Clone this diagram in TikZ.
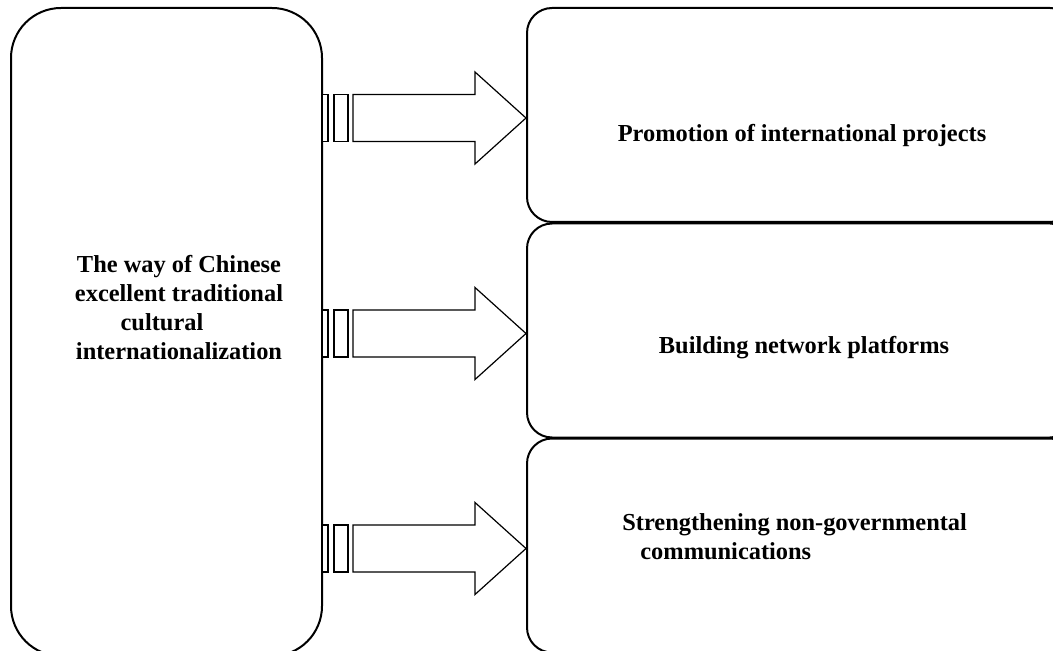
\documentclass[tikz,border=0pt]{standalone}
\usepackage{fontspec}
\setmainfont{Liberation Serif}
\usepackage{tikz}
\usetikzlibrary{calc}

% block arrow with two stripes at its tail, tip given
\newcommand{\stripedarrow}[1]{%
    \draw[arrowshape] ($(#1)+(-204,-23.5)$) rectangle ++(6,47);
    \draw[arrowshape] ($(#1)+(-192,-23.5)$) rectangle ++(14,47);
    \draw[arrowshape] (#1) -- ++(-51,-46) -- ++(0,22.5) -- ++(-122,0) -- ++(0,47) -- ++(122,0) -- ++(0,22.5) -- cycle;
}

\begin{document}
\begin{tikzpicture}[x=0.5pt, y=-0.5pt,
    box/.style={draw, line width=1pt, fill=white, inner sep=0pt},
    boxtext/.style={font=\fontsize{12.2}{14.5}\selectfont\bfseries, inner sep=0pt},
    arrowshape/.style={draw, line width=0.6pt, fill=white}]
    \clip (0,0) rectangle (1053,651);

    % Boxes
    \node[box, rounded corners=25pt, minimum width=155.5pt, minimum height=324pt] (way) at (166.5,332) {};
    \node[box, rounded corners=12.5pt, minimum width=274pt, minimum height=107pt] (promo) at (801,115) {};
    \node[box, rounded corners=12.5pt, minimum width=274pt, minimum height=107pt] (network) at (801,330.5) {};
    \node[box, rounded corners=12.5pt, minimum width=274pt, minimum height=107pt] (civil) at (801,545.5) {};

    % Texts
    \node[boxtext, align=center] (waytext) at (179,308) {The way of Chinese\\excellent traditional\\cultural\rule{17pt}{0pt}\\internationalization};
    \node[boxtext, anchor=base] (promotext) at (802,142) {Promotion of international projects};
    \node[boxtext, anchor=base] (networktext) at (804,354) {Building network platforms};
    \node[boxtext, align=left, anchor=base west] (civiltext) at (622,559) {Strengthening non-governmental\\\hspace{9pt}communications};

    % Arrows
    \coordinate (tipa) at ($(promo.west)+(0,3)$);
    \coordinate (tipb) at ($(network.west)+(0,3)$);
    \coordinate (tipc) at ($(civil.west)+(0,3)$);
    \stripedarrow{tipa}
    \stripedarrow{tipb}
    \stripedarrow{tipc}
\end{tikzpicture}
\end{document}
